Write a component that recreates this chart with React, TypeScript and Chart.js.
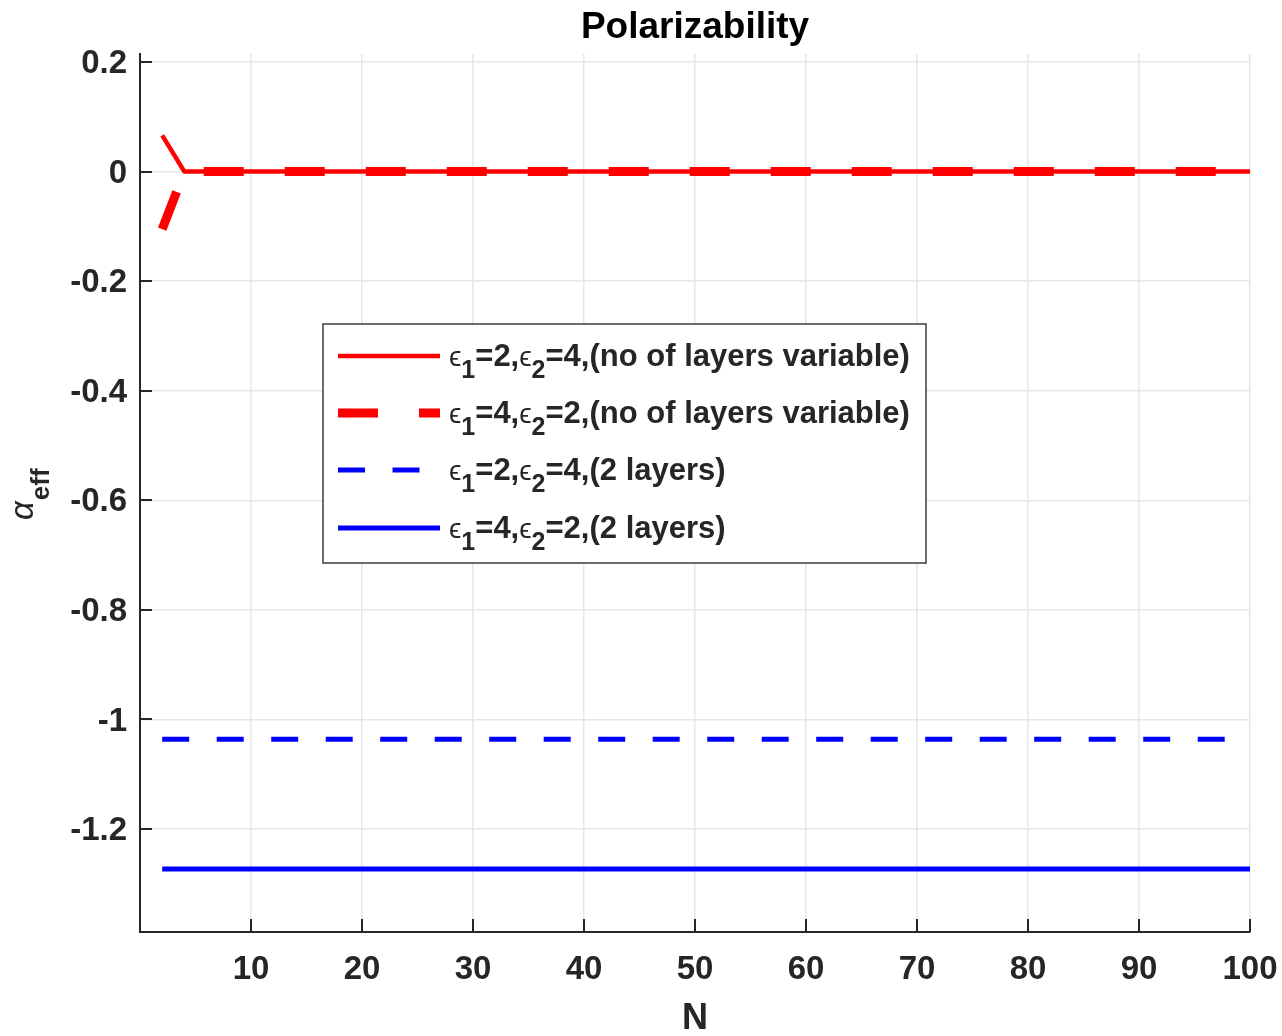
import React, { useEffect, useRef } from 'react';
import { Chart, registerables } from 'chart.js';

Chart.register(...registerables);

// ---------------- data ----------------
const N_VALUES = [
  2, 4, 6, 8, 10, 12, 14, 16, 18, 20, 22, 24, 26, 28, 30, 32, 34, 36, 38, 40,
  42, 44, 46, 48, 50, 52, 54, 56, 58, 60, 62, 64, 66, 68, 70, 72, 74, 76, 78, 80,
  82, 84, 86, 88, 90, 92, 94, 96, 98, 100,
];

// eps1=2, eps2=4 (no of layers variable)
const RED_SOLID = [
  0.066, 0, 0, 0, 0, 0, 0, 0, 0, 0, 0, 0, 0, 0, 0, 0, 0, 0, 0, 0,
  0, 0, 0, 0, 0, 0, 0, 0, 0, 0, 0, 0, 0, 0, 0, 0, 0, 0, 0, 0,
  0, 0, 0, 0, 0, 0, 0, 0, 0, 0,
];

// eps1=4, eps2=2 (no of layers variable)
const RED_DASHED = [
  -0.105, 0, 0, 0, 0, 0, 0, 0, 0, 0, 0, 0, 0, 0, 0, 0, 0, 0, 0, 0,
  0, 0, 0, 0, 0, 0, 0, 0, 0, 0, 0, 0, 0, 0, 0, 0, 0, 0, 0, 0,
  0, 0, 0, 0, 0, 0, 0, 0, 0, 0,
];

// eps1=2, eps2=4 (2 layers)
const BLUE_DASHED = [
  -1.036, -1.036, -1.036, -1.036, -1.036, -1.036, -1.036, -1.036, -1.036, -1.036,
  -1.036, -1.036, -1.036, -1.036, -1.036, -1.036, -1.036, -1.036, -1.036, -1.036,
  -1.036, -1.036, -1.036, -1.036, -1.036, -1.036, -1.036, -1.036, -1.036, -1.036,
  -1.036, -1.036, -1.036, -1.036, -1.036, -1.036, -1.036, -1.036, -1.036, -1.036,
  -1.036, -1.036, -1.036, -1.036, -1.036, -1.036, -1.036, -1.036, -1.036, -1.036,
];

// eps1=4, eps2=2 (2 layers)
const BLUE_SOLID = [
  -1.273, -1.273, -1.273, -1.273, -1.273, -1.273, -1.273, -1.273, -1.273, -1.273,
  -1.273, -1.273, -1.273, -1.273, -1.273, -1.273, -1.273, -1.273, -1.273, -1.273,
  -1.273, -1.273, -1.273, -1.273, -1.273, -1.273, -1.273, -1.273, -1.273, -1.273,
  -1.273, -1.273, -1.273, -1.273, -1.273, -1.273, -1.273, -1.273, -1.273, -1.273,
  -1.273, -1.273, -1.273, -1.273, -1.273, -1.273, -1.273, -1.273, -1.273, -1.273,
];

const X_TICKS = [10, 20, 30, 40, 50, 60, 70, 80, 90, 100];
const X_TICK_LABELS = ['10', '20', '30', '40', '50', '60', '70', '80', '90', '100'];
const Y_TICKS = [0.2, 0, -0.2, -0.4, -0.6, -0.8, -1, -1.2];
const Y_TICK_LABELS = ['0.2', '0', '-0.2', '-0.4', '-0.6', '-0.8', '-1', '-1.2'];

const TITLE = 'Polarizability';
const X_TITLE = 'N';
const Y_TITLE_MAIN = 'α';
const Y_TITLE_SUB = 'eff';

// Legend labels: [eps, sub, text, eps, sub, text]
const LEGEND_LABELS = [
  ['ϵ', '1', '=2,', 'ϵ', '2', '=4,(no of layers variable)'],
  ['ϵ', '1', '=4,', 'ϵ', '2', '=2,(no of layers variable)'],
  ['ϵ', '1', '=2,', 'ϵ', '2', '=4,(2 layers)'],
  ['ϵ', '1', '=4,', 'ϵ', '2', '=2,(2 layers)'],
];

// ---------------- styles ----------------
const FONT = '"Liberation Sans", Arial, "DejaVu Sans", sans-serif';
const TEXT_COLOR = '#262626';

const SERIES_STYLE = [
  { color: '#ff0000', width: 4.5, dash: [] as number[] },
  { color: '#ff0000', width: 9, dash: [40, 41] },
  { color: '#0000ff', width: 5, dash: [27, 27.5] },
  { color: '#0000ff', width: 5, dash: [] as number[] },
];

const overlayPlugin = {
  id: 'overlay',
  afterDraw(chart: any) {
    const ctx: CanvasRenderingContext2D = chart.ctx;
    const area = chart.chartArea;
    const xs = chart.scales.x;
    const ys = chart.scales.y;
    ctx.save();

    // inward tick marks
    ctx.strokeStyle = TEXT_COLOR;
    ctx.lineWidth = 2;
    ctx.beginPath();
    X_TICKS.forEach((v) => {
      const px = Math.round(xs.getPixelForValue(v));
      ctx.moveTo(px, area.bottom);
      ctx.lineTo(px, area.bottom - 13);
    });
    Y_TICKS.forEach((v) => {
      const py = Math.round(ys.getPixelForValue(v));
      ctx.moveTo(area.left, py);
      ctx.lineTo(area.left + 12, py);
    });
    ctx.stroke();

    // title
    ctx.fillStyle = '#000000';
    ctx.font = `bold 37px ${FONT}`;
    ctx.textAlign = 'center';
    ctx.textBaseline = 'middle';
    ctx.fillText(TITLE, 695, 28);

    // x title
    ctx.fillStyle = TEXT_COLOR;
    ctx.font = `bold 36px ${FONT}`;
    ctx.fillText(X_TITLE, 695, 1019);

    // y title (rotated)
    ctx.save();
    ctx.translate(33, 520);
    ctx.rotate(-Math.PI / 2);
    ctx.textAlign = 'left';
    ctx.textBaseline = 'alphabetic';
    ctx.font = `italic 33px ${FONT}`;
    ctx.fillText(Y_TITLE_MAIN, 0, 0);
    const aw = ctx.measureText(Y_TITLE_MAIN).width;
    ctx.font = `bold 26px ${FONT}`;
    ctx.fillText(Y_TITLE_SUB, aw + 1, 16);
    ctx.restore();

    // legend
    const box = { x: 323, y: 324, w: 603, h: 239 };
    ctx.fillStyle = '#ffffff';
    ctx.fillRect(box.x, box.y, box.w, box.h);
    ctx.strokeStyle = '#3c3c3c';
    ctx.lineWidth = 1.5;
    ctx.strokeRect(box.x, box.y, box.w, box.h);

    const rowYs = [356, 413, 470, 528];
    LEGEND_LABELS.forEach((parts, i) => {
      const st = SERIES_STYLE[i];
      const y = rowYs[i];
      ctx.save();
      ctx.strokeStyle = st.color;
      ctx.lineWidth = st.width;
      ctx.lineCap = 'butt';
      ctx.setLineDash(st.dash);
      ctx.beginPath();
      ctx.moveTo(338, y);
      ctx.lineTo(440, y);
      ctx.stroke();
      ctx.restore();

      let x = 449;
      const base = y + 10;
      ctx.fillStyle = TEXT_COLOR;
      ctx.textAlign = 'left';
      ctx.textBaseline = 'alphabetic';
      parts.forEach((t, k) => {
        const kind = k % 3;
        if (kind === 0) {
          ctx.font = `28px ${FONT}`;
          ctx.fillText(t, x, base);
        } else if (kind === 1) {
          ctx.font = `bold 25px ${FONT}`;
          ctx.fillText(t, x, base + 12);
        } else {
          ctx.font = `bold 31px ${FONT}`;
          ctx.fillText(t, x, base);
        }
        x += ctx.measureText(t).width;
      });
    });

    ctx.restore();
  },
};

export default function App() {
  const canvasRef = useRef<HTMLCanvasElement | null>(null);

  useEffect(() => {
    const canvas = canvasRef.current;
    if (!canvas) return;
    const data = [RED_SOLID, RED_DASHED, BLUE_DASHED, BLUE_SOLID];
    const names = LEGEND_LABELS.map((p) => p.join(''));
    const chart = new Chart(canvas, {
      type: 'line',
      data: {
        datasets: data.map((arr, i) => ({
          label: names[i],
          data: N_VALUES.map((n, j) => ({ x: n, y: arr[j] })),
          borderColor: SERIES_STYLE[i].color,
          backgroundColor: SERIES_STYLE[i].color,
          borderWidth: SERIES_STYLE[i].width,
          borderDash: SERIES_STYLE[i].dash,
          borderCapStyle: 'butt',
          borderJoinStyle: 'round',
          pointRadius: 0,
          tension: 0,
          fill: false,
        })),
      },
      options: {
        animation: false,
        responsive: false,
        events: [],
        layout: { padding: { top: 54, right: 32, bottom: 0, left: 0 } },
        plugins: {
          legend: { display: false },
          tooltip: { enabled: false },
          title: { display: false },
        },
        scales: {
          x: {
            type: 'linear',
            min: 0,
            max: 100,
            afterFit: (s: any) => {
              s.height = 104;
              s.paddingLeft = 0;
              s.paddingRight = 0;
            },
            afterBuildTicks: (s: any) => {
              s.ticks = X_TICKS.map((v) => ({ value: v }));
            },
            ticks: {
              autoSkip: false,
              maxRotation: 0,
              padding: 18,
              color: TEXT_COLOR,
              font: { family: FONT, size: 33, weight: 'bold' },
              callback: (v: any) => {
                const i = X_TICKS.indexOf(Number(v));
                return i >= 0 ? X_TICK_LABELS[i] : '';
              },
            },
            grid: { color: '#e6e6e6', lineWidth: 1.5, drawTicks: false },
            border: { display: true, color: TEXT_COLOR, width: 2 },
          },
          y: {
            type: 'linear',
            min: -1.388,
            max: 0.2146,
            afterFit: (s: any) => {
              s.width = 140;
              s.paddingTop = 0;
              s.paddingBottom = 0;
            },
            afterBuildTicks: (s: any) => {
              s.ticks = Y_TICKS.map((v) => ({ value: v }));
            },
            ticks: {
              autoSkip: false,
              padding: 13,
              labelOffset: 2,
              color: TEXT_COLOR,
              font: { family: FONT, size: 33, weight: 'bold' },
              callback: (v: any) => {
                const i = Y_TICKS.findIndex((t) => Math.abs(t - Number(v)) < 1e-9);
                return i >= 0 ? Y_TICK_LABELS[i] : '';
              },
            },
            grid: { color: '#e6e6e6', lineWidth: 1.5, drawTicks: false },
            border: { display: true, color: TEXT_COLOR, width: 2 },
          },
        },
      },
      plugins: [overlayPlugin],
    } as any);
    return () => chart.destroy();
  }, []);

  return (
    <div style={{ position: 'absolute', left: 0, top: 0, width: 1282, height: 1036, background: '#ffffff' }}>
      <canvas ref={canvasRef} width={1282} height={1036} style={{ display: 'block' }} />
    </div>
  );
}
